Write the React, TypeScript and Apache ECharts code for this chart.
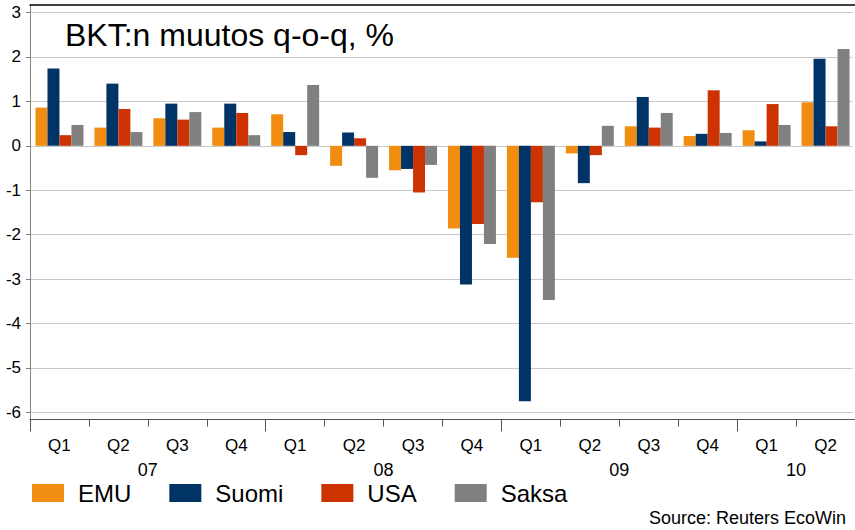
import React, { useEffect, useRef } from "react";
import * as echarts from "echarts";

const categories = ["Q1", "Q2", "Q3", "Q4", "Q1", "Q2", "Q3", "Q4", "Q1", "Q2", "Q3", "Q4", "Q1", "Q2"];
const years = ["07", "08", "09", "10"];
const yearLabelPositions = [2, 6, 10, 13];
const yearBoundaries = [0, 4, 8, 12];
const yTicks = [-6, -5, -4, -3, -2, -1, 0, 1, 2, 3];

const emu = [0.86, 0.41, 0.62, 0.41, 0.71, -0.45, -0.55, -1.86, -2.52, -0.17, 0.44, 0.22, 0.35, 0.98];
const suomi = [1.74, 1.4, 0.95, 0.95, 0.31, 0.3, -0.52, -3.12, -5.75, -0.84, 1.1, 0.27, 0.1, 1.96];
const usa = [0.24, 0.83, 0.59, 0.74, -0.21, 0.17, -1.05, -1.76, -1.27, -0.21, 0.41, 1.25, 0.94, 0.44];
const saksa = [0.47, 0.31, 0.76, 0.24, 1.37, -0.72, -0.43, -2.21, -3.47, 0.45, 0.74, 0.29, 0.47, 2.18];

const seriesNames = ["EMU", "Suomi", "USA", "Saksa"];
const seriesColors = ["#F18D10", "#003366", "#CC3300", "#808080"];

const FONT = "'Liberation Sans', Arial, sans-serif";

export default function App() {
  const ref = useRef<HTMLDivElement>(null);
  useEffect(() => {
    if (!ref.current) return;
    const chart = echarts.init(ref.current, undefined, { renderer: "svg" });
    const seriesData = [emu, suomi, usa, saksa];
    chart.setOption({
      animation: false,
      backgroundColor: "#ffffff",
      textStyle: { fontFamily: FONT },
      grid: {
        left: 30,
        top: 5,
        right: -1,
        bottom: 110.5,
        show: false,
      },
      legend: {
        left: 27,
        top: 476,
        itemWidth: 32,
        itemHeight: 18,
        itemGap: 38,
        icon: "rect",
        data: seriesNames,
        textStyle: { fontSize: 24, color: "#000", fontFamily: FONT, padding: [0, 0, 0, 9] },
      },
      xAxis: [
        {
          type: "category",
          data: categories,
          position: "bottom",
          boundaryGap: true,
          axisLine: { show: true, onZero: false, lineStyle: { color: "#555555", width: 1 } },
          axisTick: { show: true, length: 7, lineStyle: { color: "#555555" } },
          axisLabel: { fontSize: 17, color: "#000", margin: 17, fontFamily: FONT, interval: 0 },
          splitLine: { show: false },
        },
        {
          type: "value",
          min: 0,
          max: categories.length,
          position: "bottom",
          axisLine: { show: false, onZero: false },
          axisTick: {
            show: true,
            length: 12,
            customValues: yearBoundaries,
            lineStyle: { color: "#555555" },
          },
          axisLabel: {
            show: true,
            customValues: yearLabelPositions,
            fontSize: 18,
            color: "#000",
            margin: 41,
            fontFamily: FONT,
            formatter: (v: number) => {
              const i = yearLabelPositions.indexOf(v);
              return i >= 0 ? years[i] : "";
            },
          },
          splitLine: { show: false },
        },
        {
          type: "category",
          data: categories,
          position: "top",
          axisLine: { show: true, onZero: false, lineStyle: { color: "#000000", width: 1.5 } },
          axisTick: { show: false },
          axisLabel: { show: false },
          splitLine: { show: false },
        },
      ],
      yAxis: {
        type: "value",
        min: -6.16,
        max: 3.17,
        splitNumber: 9,
        minInterval: 1,
        maxInterval: 1,
        axisLine: { show: true, onZero: false, lineStyle: { color: "#808080", width: 1 } },
        axisTick: { show: true, length: 4, customValues: yTicks, lineStyle: { color: "#808080" } },
        axisLabel: {
          customValues: yTicks,
          fontSize: 17,
          color: "#000",
          margin: 9,
          fontFamily: FONT,
          formatter: (v: number) => (Number.isInteger(v) ? String(v) : ""),
        },
        splitLine: { show: true, lineStyle: { color: "#C8C8C8", width: 1.2 } },
      },
      series: seriesNames.map((name, i) => ({
        name,
        type: "bar",
        xAxisIndex: 0,
        data: seriesData[i],
        itemStyle: { color: seriesColors[i] },
        barGap: "0%",
        barCategoryGap: "18.6%",
      })),
      graphic: [
        {
          type: "rect",
          shape: { x: 852.5, y: 7, width: 4, height: 410 },
          style: { fill: "#ffffff" },
          z: 100,
        },
        {
          type: "text",
          left: 65,
          top: 19,
          style: { text: "BKT:n muutos q-o-q, %", fontSize: 32, fontFamily: FONT, fill: "#000" },
        },
        {
          type: "text",
          right: 9,
          top: 509,
          style: { text: "Source: Reuters EcoWin", fontSize: 18, fontFamily: FONT, fill: "#000" },
        },
      ],
    });
    return () => chart.dispose();
  }, []);
  return <div ref={ref} style={{ width: 855, height: 530, position: "absolute", left: 0, top: 0 }} />;
}
